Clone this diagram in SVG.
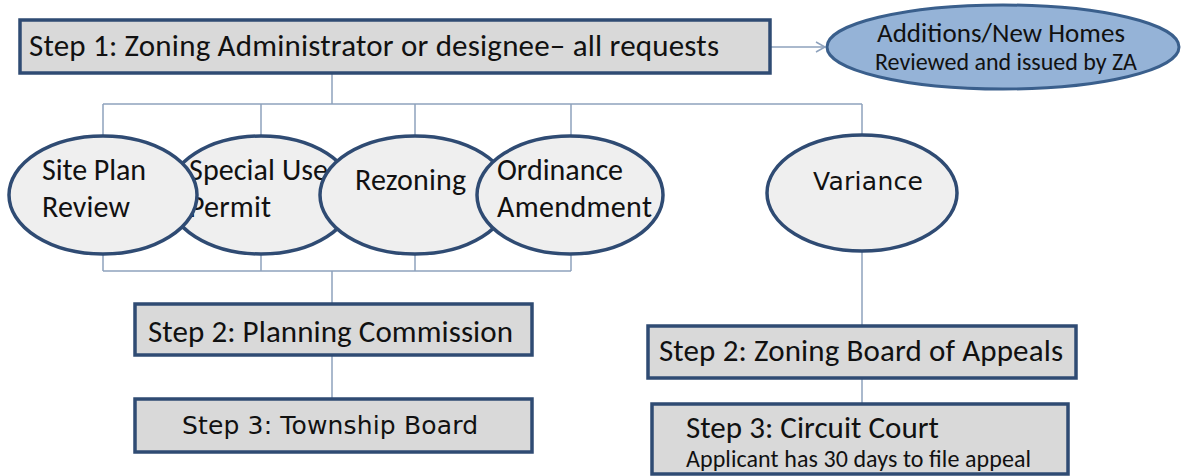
<svg xmlns="http://www.w3.org/2000/svg" width="1181" height="476" viewBox="0 0 1181 476">
<style>
.box{fill:#d9d9d9;stroke:#2f4b73;stroke-width:3.5}
.ell{fill:#efefef;stroke:#2f4b73;stroke-width:3.5}
.blue{fill:#95b3d7;stroke:#3a5f8c;stroke-width:3}
.con{fill:none;stroke:#8ea2bd;stroke-width:1.5}
.cal{font-family:Carlito,Lato,"Liberation Sans",sans-serif;fill:#111}
.ver{font-family:"DejaVu Sans",Verdana,sans-serif;fill:#111}
</style>
<defs>
<marker id="arr" markerWidth="12" markerHeight="12" refX="10" refY="6" orient="auto" markerUnits="userSpaceOnUse">
<path d="M1,1 L10,6 L1,11" fill="none" stroke="#8ea2bd" stroke-width="1.5"/>
</marker>
</defs>
<rect width="1181" height="476" fill="#ffffff"/>
<g id="connectors">
<line class="con" x1="770" y1="47" x2="825" y2="47" marker-end="url(#arr)"/>
<path class="con" d="M332,73 V104 M103,104 H862 M103,104 V136 M261,104 V136 M415,104 V136 M571,104 V136 M862,104 V136"/>
<path class="con" d="M103,252 V271 M261,252 V271 M415,252 V271 M571,252 V271 M103,271 H571 M332,271 V304"/>
<path class="con" d="M332,355 V399"/>
<path class="con" d="M862,250 V326 M862,378 V404"/>
</g>
<g id="step1">
<rect class="box" x="20" y="20" width="750" height="53"/>
<text class="cal" x="29" y="56" font-size="31" textLength="690">Step 1: Zoning Administrator  or designee– all requests</text>
</g>
<g id="additions">
<ellipse class="blue" cx="1003" cy="47" rx="176" ry="42"/>
<text class="cal" x="877" y="42" font-size="27" textLength="248">Additions/New  Homes</text>
<text class="cal" x="875" y="70" font-size="24" textLength="262">Reviewed and issued by ZA</text>
</g>
<g id="special-use">
<ellipse class="ell" cx="261" cy="195" rx="93" ry="59"/>
<text class="cal" x="189" y="180" font-size="30" textLength="139">Special Use</text>
<text class="cal" x="189" y="217" font-size="30" textLength="82">Permit</text>
</g>
<g id="site-plan">
<ellipse class="ell" cx="103" cy="195" rx="94" ry="59"/>
<text class="cal" x="42" y="180" font-size="30" textLength="104">Site Plan</text>
<text class="cal" x="42" y="217" font-size="30" textLength="88">Review</text>
</g>
<g id="rezoning">
<ellipse class="ell" cx="415" cy="195" rx="95" ry="59"/>
<text class="cal" x="355" y="190" font-size="30" textLength="111">Rezoning</text>
</g>
<g id="ordinance">
<ellipse class="ell" cx="570" cy="195" rx="93" ry="59"/>
<text class="cal" x="497" y="180" font-size="30" textLength="126">Ordinance</text>
<text class="cal" x="497" y="217" font-size="30" textLength="155">Amendment</text>
</g>
<g id="variance">
<ellipse class="ell" cx="862" cy="193" rx="95" ry="58"/>
<text class="ver" x="813" y="190" font-size="25" textLength="110">Variance</text>
</g>
<g id="planning">
<rect class="box" x="135" y="304" width="397" height="51"/>
<text class="cal" x="148" y="342" font-size="31" textLength="365">Step 2: Planning Commission</text>
</g>
<g id="township">
<rect class="box" x="135" y="399" width="397" height="53"/>
<text class="ver" x="182" y="434" font-size="25" textLength="296">Step 3: Township Board</text>
</g>
<g id="zba">
<rect class="box" x="648" y="326" width="428" height="52"/>
<text class="cal" x="659" y="361" font-size="31" textLength="404">Step 2: Zoning Board of Appeals</text>
</g>
<g id="circuit">
<rect class="box" x="652" y="404" width="416" height="70"/>
<text class="cal" x="686" y="438" font-size="31" textLength="253">Step 3: Circuit Court</text>
<text class="cal" x="686" y="467" font-size="24" textLength="345">Applicant has 30 days to file appeal</text>
</g>
</svg>
